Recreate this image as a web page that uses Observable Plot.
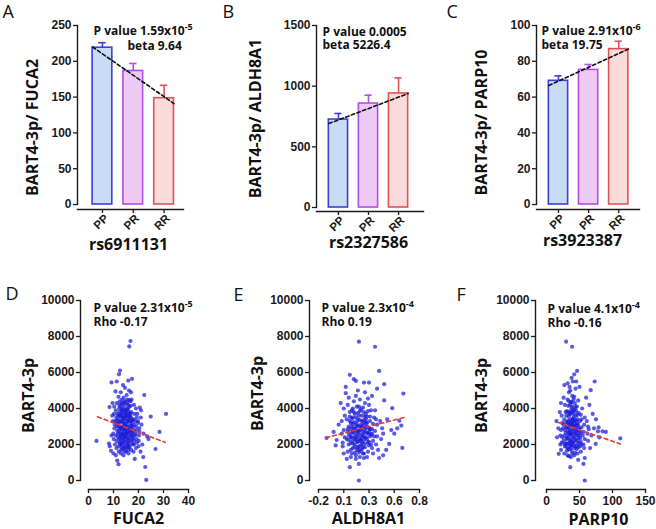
<!DOCTYPE html>
<html><head><meta charset="utf-8">
<script src="https://cdn.jsdelivr.net/npm/d3@7"></script>
<script src="https://cdn.jsdelivr.net/npm/@observablehq/plot@0.6"></script>
<style>
body{margin:0;background:#fff;}
#wrap{position:relative;width:656px;height:529px;overflow:hidden;background:#fff;}
#wrap svg{position:absolute;}
</style></head><body><div id="wrap"></div>
<script>
// ---------- data ----------
const genotypes = ["PP", "PR", "RR"];
const barFill = ["#c9dcf6", "#eccaf4", "#fbdada"];
const barStroke = ["#3f3fd8", "#b24ee0", "#e0525a"];

const meanA = [219, 186.5, 148.5], errA = [7, 10.5, 18], fitA = [220, 141];
const meanB = [725, 857, 940], errB = [50, 69, 128], fitB = [692, 940];
const meanC = [69.1, 75.2, 86.8], errC = [2.8, 3.0, 4.4], fitC = [66.5, 86.8];

const yTicksA = [0, 50, 100, 150, 200, 250];
const yTicksB = [0, 500, 1000, 1500];
const yTicksC = [0, 20, 40, 60, 80, 100];
const yTicksScatter = [0, 2000, 4000, 6000, 8000, 10000];

const xTicksD = [0, 10, 20, 30, 40];
const xTicksE = [-0.2, 0.05, 0.3, 0.55, 0.8];
const xLabelsE = ["-0.2", "0.1", "0.3", "0.6", "0.8"];
const xTicksF = [0, 50, 100, 150];

// FUCA2 vs BART4-3p
const ptsD = [[16.8,7750],[16.3,7450],[12.6,6100],[12.2,5900],[9.2,5450],[11.3,5500],[15.9,5550],[17.4,5650],[13.8,5300],[14.6,5150],[10.8,4950],[12.9,4900],[22.3,4750],[8.4,4080],[9.6,4300],[3.2,2200],[31.0,3700],[24.9,3550],[28.4,2700],[26.8,1750],[21.9,1300],[22.7,750],[23.1,30],[12.0,900],[20.5,4050],[23.5,2450],[24.0,2300],[19.8,3300],[21.0,3900],[8.5,1900],[9.0,1650],[8.2,2050],[11.5,1100],[18.5,1200],[20.8,1600],[21.5,2000],[22.0,2600],[21.2,3100],[20.4,2700],[20.9,3500],
[10.1,2300],[10.4,2900],[9.8,3300],[10.2,3700],[10.6,2000],[9.9,2600],[10.3,4100],[10.0,1500],[10.5,3100],
[11.2,1800],[11.0,2500],[11.4,3000],[11.1,3500],[10.9,3900],[11.3,4300],[11.2,2200],[11.5,2750],[11.0,1400],
[12.1,1600],[12.3,2100],[11.9,2400],[12.2,2800],[12.4,3200],[12.0,3600],[12.3,4000],[12.5,4400],[11.8,3400],[12.6,2600],[12.1,1900],[12.4,3800],
[13.0,1500],[13.2,1900],[12.9,2300],[13.1,2700],[13.3,3000],[13.0,3300],[13.2,3700],[12.8,4100],[13.4,4500],[13.1,2500],[13.5,3500],[13.3,2100],[12.9,2900],[13.2,3900],
[14.0,1400],[14.2,1800],[13.9,2200],[14.1,2600],[14.3,2900],[14.0,3200],[14.2,3500],[13.8,3800],[14.4,4200],[14.1,4600],[14.5,2400],[13.9,3000],[14.3,3400],[14.0,2000],[14.6,3700],[14.2,2750],
[15.0,1600],[15.1,2000],[14.8,2300],[15.2,2700],[15.0,3000],[15.3,3300],[14.9,3600],[15.1,3900],[15.4,4300],[15.0,2500],[15.2,3100],[14.8,2850],[15.5,3450],[15.1,1800],[15.3,4000],
[16.0,1500],[16.2,1900],[15.9,2200],[16.1,2600],[16.3,2950],[16.0,3250],[16.2,3600],[15.8,3950],[16.4,4450],[16.1,2400],[16.5,3400],[16.0,2800],[16.3,4100],[15.9,1700],
[17.0,1700],[17.2,2100],[16.9,2500],[17.1,2900],[17.3,3200],[17.0,3500],[17.2,4500],[16.8,4400],[17.4,2700],[17.1,3800],[17.5,2300],
[18.0,1600],[18.2,2000],[17.9,2400],[18.1,2800],[18.3,3100],[18.0,3400],[18.4,3700],[18.2,2200],[17.8,3000],
[19.0,1800],[19.2,2300],[18.9,2600],[19.1,3000],[19.3,3500],[19.0,4000],[19.4,2100],[19.2,2800],
[20.0,1900],[20.2,2500],[19.8,3200],[20.3,2900],[20.1,2200],
[12.7,2050],[13.6,2550],[14.7,3050],[15.6,2650],[16.6,3050],[13.7,3250],[14.9,3750],[15.7,3650],[16.7,2250],[12.8,3550],[13.5,1750],[14.4,1600],[15.4,2150],[16.4,1850],[17.6,3350],[11.7,3150],[12.6,2950],[13.9,4050],[15.8,4200],[16.9,3700],[14.8,4400],[13.6,4300],[17.8,2600],[18.6,2500],[18.7,3300],[11.6,3700],[10.7,3300],[16.2,5000],[15.3,4750],[12.0,4650],[17.0,4900],[18.2,4200],[19.5,3700],[9.5,3600],[9.2,2500],
[11.8,2600],[12.4,2300],[13.0,2000],[13.6,2850],[14.2,2150],[14.8,2600],[15.4,2900],[16.0,2050],[16.6,2700],[17.2,3050],[12.2,3000],[12.8,3300],[13.4,3600],[14.0,3450],[14.6,3150],[15.2,3550],[15.8,3300],[16.4,3750],[17.0,3300],[11.5,3300],[12.5,3650],[13.5,3950],[14.5,3900],[15.5,3850],[16.5,3550],[12.9,2450],[13.8,2350],[14.4,2500],[15.7,2350],[16.8,2800],[13.1,1700],[14.6,1850],[15.9,1950],[17.3,2500],[17.7,2000],[13.3,4250],[14.3,4350],[15.6,4500],[12.3,4200],[16.9,4150]];
const fitD = [[3.6,3540],[30.7,2120]];

// ALDH8A1 vs BART4-3p
const ptsE = [[0.20,7710],[0.36,7430],[0.40,6090],[0.11,5870],[0.15,5630],[0.17,5530],[0.25,5440],[0.30,5440],[0.07,5200],[0.45,5350],[0.07,4850],[0.64,4830],[0.53,4020],[-0.12,2360],[0.63,1810],[0.11,740],[0.20,920],[0.20,0],[0.60,3320],[0.58,2900],[0.62,3050],[0.50,2030],[0.47,1700],[0.55,2600],[0.52,2800],[0.48,3400],[0.45,4450],[0.38,5100],[0.33,4700],[-0.05,2700],[-0.02,2250],[-0.03,1950],[0.00,3100],[0.02,4300],[0.05,4000],[0.44,1400],[0.40,1250],[0.05,1500],[0.08,1200],[0.36,3900],
[0.04,1900],[0.06,2400],[0.05,2800],[0.03,3300],[0.06,3600],[0.04,2100],
[0.09,1600],[0.10,2000],[0.08,2300],[0.09,2700],[0.10,3000],[0.08,3400],[0.11,3800],[0.09,4200],[0.10,2500],[0.12,1300],
[0.13,1500],[0.14,1800],[0.12,2100],[0.13,2400],[0.14,2700],[0.13,3000],[0.12,3200],[0.14,3500],[0.13,3900],[0.15,4400],[0.14,2200],[0.15,2900],[0.12,1700],
[0.17,1400],[0.18,1700],[0.16,2000],[0.17,2300],[0.18,2600],[0.16,2850],[0.17,3100],[0.19,3400],[0.16,3700],[0.18,4100],[0.17,4700],[0.19,2150],[0.16,1550],[0.18,3250],
[0.21,1300],[0.22,1650],[0.20,1900],[0.21,2200],[0.22,2500],[0.20,2750],[0.21,3000],[0.23,3300],[0.20,3600],[0.22,3950],[0.21,4500],[0.23,2350],[0.20,1550],[0.22,2850],
[0.25,1500],[0.26,1850],[0.24,2150],[0.25,2450],[0.26,2700],[0.24,3050],[0.25,3350],[0.27,3700],[0.24,4050],[0.26,4300],[0.25,1250],[0.27,2950],
[0.29,1600],[0.30,1950],[0.28,2300],[0.29,2600],[0.30,2900],[0.28,3200],[0.31,3550],[0.29,3850],[0.30,4200],[0.28,1300],[0.31,2450],
[0.33,1800],[0.34,2200],[0.32,2550],[0.33,2850],[0.34,3150],[0.35,3500],[0.32,3900],[0.34,1500],
[0.37,2000],[0.38,2450],[0.36,2750],[0.38,3100],[0.37,3400],[0.39,1700],
[0.42,2300],[0.43,2900],[0.41,3300],[0.44,2600],
[0.16,2450],[0.19,2750],[0.23,2050],[0.26,2300],[0.28,2650],[0.15,3250],[0.21,3350],[0.24,2700],[0.27,3200],[0.19,1850],[0.23,1750],[0.30,2150],[0.12,2600],[0.18,3000],[0.22,3100],[0.26,3550],[0.20,4100],[0.28,3550],[0.14,4000],[0.31,3300],[0.35,2450],[0.11,3550],[0.24,1500],[0.32,2000],[0.10,4600],[0.19,5000],[0.26,4900],[0.29,4550],[0.03,2600],[0.17,1200],
[0.10,2250],[0.12,2850],[0.14,3150],[0.16,2300],[0.18,2450],[0.20,2600],[0.22,2250],[0.24,2550],[0.26,2850],[0.28,3000],[0.30,2700],[0.11,3300],[0.13,3450],[0.15,2650],[0.17,2800],[0.19,3050],[0.21,2800],[0.23,2950],[0.25,3200],[0.27,2400],[0.29,2100],[0.16,1850],[0.18,2150],[0.20,2350],[0.22,1950],[0.24,1850],[0.26,2050],[0.14,2050],[0.12,2400],[0.17,3500],[0.19,3750],[0.21,3850],[0.23,3600],[0.25,3800],[0.15,3800],[0.27,3400],[0.09,2850],[0.31,2850],[0.33,2600],[0.20,1700]];
const fitE = [[-0.13,2380],[0.65,3500]];

// PARP10 vs BART4-3p
const ptsF = [[29.7,7710],[38.8,7430],[46.4,6090],[73,5500],[67,5020],[111.8,2340],[85,2730],[78,2730],[79,2950],[36,740],[58,0],[56,920],[18.6,1480],[74.5,2030],[42,5900],[38,5700],[32,5400],[27,5300],[45,5500],[50,5200],[60,4600],[65,4200],[70,3700],[75,3400],[72,2900],[68,2500],[63,2200],[66,1800],[58,1250],[48,1150],[16,2400],[15,3300],[20,3800],[22,4300],[18,2900],[80,2400],[90,2700],
[22,1700],[23,2100],[21,2500],[22,2800],[24,3200],[23,3600],[21,2000],
[27,1500],[28,1900],[26,2200],[27,2500],[28,2800],[26,3100],[27,3400],[29,3800],[28,4200],[26,4600],[28,2000],
[32,1400],[33,1750],[31,2050],[32,2350],[33,2650],[31,2950],[32,3250],[34,3550],[31,3850],[33,4150],[32,4500],[34,4900],[33,2800],[31,1650],
[37,1300],[38,1650],[36,1950],[37,2250],[38,2550],[36,2800],[37,3100],[39,3400],[36,3700],[38,4000],[37,4350],[39,4700],[36,5000],[38,2050],[37,2700],[39,3250],
[42,1400],[43,1800],[41,2100],[42,2400],[43,2700],[41,3000],[42,3300],[44,3600],[41,3900],[43,4300],[42,4650],[44,2250],[42,2900],[41,3500],
[47,1500],[48,1850],[46,2200],[47,2500],[48,2800],[46,3100],[47,3400],[49,3750],[46,4100],[48,4450],[47,2000],[49,2650],
[52,1600],[53,2000],[51,2350],[52,2650],[53,2950],[51,3300],[52,3650],[54,4000],[52,2150],
[57,1800],[58,2300],[56,2700],[57,3100],[58,3500],[56,2000],
[62,2600],[63,3000],[61,3300],[64,2850],
[30,2300],[35,2600],[40,2850],[45,3050],[34,3350],[39,3800],[44,4100],[29,2650],[33,2050],[38,1850],[43,1550],[48,2350],[50,2900],[35,3100],[40,3400],[45,2600],[30,3600],[36,4200],[41,4500],[47,3650],[53,3400],[25,2900],[24,2400],[39,1500],[34,1350],[51,1900],[55,2500],[44,5100],[35,5200],[40,5500],
[29,2050],[31,2400],[33,2550],[35,2250],[37,2450],[39,2650],[41,2350],[43,2550],[45,2750],[47,2900],[30,3000],[32,3150],[34,2950],[36,3300],[38,3150],[40,3050],[42,3150],[44,3350],[46,3250],[48,3100],[30,3250],[33,3800],[35,3700],[37,3850],[39,4100],[41,3700],[43,3950],[45,3850],[34,4400],[38,4350],[31,1850],[35,1750],[37,1950],[40,2150],[42,1950],[44,1900],[46,1750],[49,2100],[50,2500],[36,2150]];
const fitF = [[17,3230],[112,2030]];

// ---------- styling ----------
const AXIS = "#1b1b1b";
const TITLE_FONT = "'Open Sans', 'DejaVu Sans', sans-serif";
const TICK_FONT = "'Liberation Sans', Arial, sans-serif";
const HALF = 0.32, CAP = 0.12;
const plotStyle = {fontFamily: TICK_FONT, fontSize: "12px", fontWeight: "bold", color: AXIS, background: "transparent", overflow: "visible"};
const wrap = document.getElementById("wrap");

function txt(s, x, y, ml, mt, o) {
  return Plot.text([s], {text: d => d, frameAnchor: "top-left", dx: x - ml, dy: y - mt,
    fontFamily: TITLE_FONT, fill: "#111", ...o});
}
function labels(c, ml, mt) {
  return [
    txt(c.letter, c.letterPos[0], c.letterPos[1], ml, mt, {fontSize: 18, fontWeight: "normal", textAnchor: "start", lineAnchor: "top"}),
    txt(c.ylabel, c.yl[0], c.yl[1], ml, mt, {rotate: -90, fontSize: 16, fontWeight: "bold", textAnchor: "middle", lineAnchor: "middle"}),
    txt(c.xlabel, c.xl[0], c.xl[1], ml, mt, {fontSize: 16, fontWeight: "bold", textAnchor: "middle", lineAnchor: "middle"}),
    txt(c.ann1, c.a1[0], c.a1[1], ml, mt, {fontSize: 12, fontWeight: "bold", textAnchor: "start", lineAnchor: "middle"}),
    txt(c.ann2, c.a2[0], c.a2[1], ml, mt, {fontSize: 12, fontWeight: "bold", textAnchor: "start", lineAnchor: "middle"})
  ];
}
function supify(svg) {
  svg.querySelectorAll("text").forEach(t => {
    if (t.childElementCount === 0 && t.textContent.includes("^")) {
      const [a, b] = t.textContent.split("^");
      t.textContent = a;
      const ts = document.createElementNS("http://www.w3.org/2000/svg", "tspan");
      ts.setAttribute("dy", "-5");
      ts.setAttribute("font-size", "9");
      ts.textContent = b;
      t.appendChild(ts);
    }
  });
}
function place(svg, left, top) {
  supify(svg);
  svg.style.left = left + "px";
  svg.style.top = top + "px";
  wrap.appendChild(svg);
}

function barPanel(c) {
  const rows = genotypes.map((g, i) => ({g, i, mean: c.mean[i], err: c.err[i], fill: barFill[i], stroke: barStroke[i]}));
  const fit = [{x: -HALF, y: c.fit[0]}, {x: 2 + HALF, y: c.fit[1]}];
  const mt = 25;
  const svg = Plot.plot({
    width: 220, height: 260,
    marginLeft: c.ml, marginRight: c.mr, marginTop: mt, marginBottom: c.mb,
    style: plotStyle,
    x: {domain: c.xdom},
    y: {domain: [0, c.yTicks[c.yTicks.length - 1]], insetBottom: c.ib},
    color: {type: "identity"},
    marks: [
      Plot.frame({anchor: "left", insetBottom: c.ib, stroke: AXIS, strokeWidth: 1.4}),
      Plot.frame({anchor: "bottom", stroke: AXIS, strokeWidth: 1.4}),
      Plot.axisY({ticks: c.yTicks, tickFormat: d => String(d), tickSize: 4, tickPadding: 2, label: null, strokeWidth: 1.3}),
      Plot.axisX({ticks: [0, 1, 2], tickFormat: () => "", tickSize: 4, label: null, strokeWidth: 1.3}),
      Plot.text(rows, {x: "i", text: "g", frameAnchor: "bottom", rotate: -45, textAnchor: "end", lineAnchor: "middle",
        dx: 4, dy: 7, fontFamily: TICK_FONT, fontSize: 11.5, fontWeight: "bold", fill: AXIS}),
      Plot.rectY(rows, {x1: d => d.i - HALF, x2: d => d.i + HALF, y1: 0, y2: "mean", fill: "fill", stroke: "stroke", strokeWidth: 1.6}),
      Plot.ruleX(rows, {x: "i", y1: "mean", y2: d => d.mean + d.err, stroke: "stroke", strokeWidth: 1.6}),
      Plot.ruleY(rows, {y: d => d.mean + d.err, x1: d => d.i - CAP, x2: d => d.i + CAP, stroke: "stroke", strokeWidth: 1.6}),
      Plot.line(fit, {x: "x", y: "y", stroke: "#111", strokeWidth: 1.6, strokeDasharray: "3.5,2.5"}),
      ...labels(c, c.ml, mt)
    ]
  });
  place(svg, c.left, 0);
}

function scatterPanel(c) {
  const pts = c.pts.map(([x, y]) => ({x, y}));
  const fit = c.fit.map(([x, y]) => ({x, y}));
  const mt = 40;
  const svg = Plot.plot({
    width: 220, height: 269,
    marginLeft: c.ml, marginRight: c.mr, marginTop: mt, marginBottom: 40,
    style: plotStyle,
    x: {domain: c.xdom, insetLeft: c.il},
    y: {domain: [0, 10000], insetBottom: 9},
    marks: [
      Plot.frame({anchor: "left", insetBottom: 9, stroke: AXIS, strokeWidth: 1.4}),
      Plot.frame({anchor: "bottom", insetLeft: c.il, stroke: AXIS, strokeWidth: 1.4}),
      Plot.axisY({ticks: yTicksScatter, tickFormat: d => String(d), tickSize: 4, tickPadding: 2, label: null, strokeWidth: 1.3}),
      Plot.axisX({ticks: c.xTicks, tickFormat: d => c.xLabels ? c.xLabels[c.xTicks.indexOf(d)] : String(d), tickSize: 4, tickPadding: 3, label: null, strokeWidth: 1.3}),
      Plot.dot(pts, {x: "x", y: "y", r: 2.1, fill: "#1a1ad8", fillOpacity: 0.72, stroke: "none"}),
      Plot.line(fit, {x: "x", y: "y", stroke: "#e03c3c", strokeWidth: 1.6, strokeDasharray: "4,3"}),
      ...labels(c, c.ml, mt)
    ]
  });
  place(svg, c.left, 260);
}

barPanel({left: 0, ml: 77, mr: 37, mb: 51, ib: 5, xdom: [-0.81, 2.63],
  mean: meanA, err: errA, fit: fitA, yTicks: yTicksA,
  letter: "A", letterPos: [2, 5], ylabel: "BART4-3p/ FUCA2", yl: [32, 127], xlabel: "rs6911131", xl: [128, 244],
  ann1: "P value 1.59x10^-5", a1: [93, 31], ann2: "beta 9.64", a2: [127, 46]});
barPanel({left: 220, ml: 96, mr: 17, mb: 49, ib: 4, xdom: [-0.73, 2.83],
  mean: meanB, err: errB, fit: fitB, yTicks: yTicksB,
  letter: "B", letterPos: [2, 5], ylabel: "BART4-3p/ ALDH8A1", yl: [35, 118], xlabel: "rs2327586", xl: [148, 242],
  ann1: "P value 0.0005", a1: [102, 32], ann2: "beta 5226.4", a2: [102, 45]});
barPanel({left: 436, ml: 100, mr: 17, mb: 51, ib: 5, xdom: [-0.73, 2.69],
  mean: meanC, err: errC, fit: fitC, yTicks: yTicksC,
  letter: "C", letterPos: [10, 5], ylabel: "BART4-3p/ PARP10", yl: [45, 122], xlabel: "rs3923387", xl: [146, 240],
  ann1: "P value 2.91x10^-6", a1: [105, 31], ann2: "beta 19.75", a2: [105, 45]});

scatterPanel({left: 0, ml: 80, mr: 32, il: 8, xdom: [0, 40], xTicks: xTicksD, pts: ptsD, fit: fitD,
  letter: "D", letterPos: [5, 27], ylabel: "BART4-3p", yl: [28, 135], xlabel: "FUCA2", xl: [138, 258],
  ann1: "P value 2.31x10^-5", a1: [93, 48], ann2: "Rho -0.17", a2: [93, 62]});
scatterPanel({left: 220, ml: 89, mr: 21, il: 9, xdom: [-0.2, 0.8], xTicks: xTicksE, xLabels: xLabelsE, pts: ptsE, fit: fitE,
  letter: "E", letterPos: [13, 28], ylabel: "BART4-3p", yl: [37, 133], xlabel: "ALDH8A1", xl: [148, 258],
  ann1: "P value 2.3x10^-4", a1: [101, 48], ann2: "Rho 0.19", a2: [101, 62]});
scatterPanel({left: 436, ml: 99, mr: 11, il: 11, xdom: [0, 150], xTicks: xTicksF, pts: ptsF, fit: fitF,
  letter: "F", letterPos: [20, 28], ylabel: "BART4-3p", yl: [45, 135], xlabel: "PARP10", xl: [162, 259],
  ann1: "P value 4.1x10^-4", a1: [111, 49], ann2: "Rho -0.16", a2: [111, 63]});
</script>
</body></html>
